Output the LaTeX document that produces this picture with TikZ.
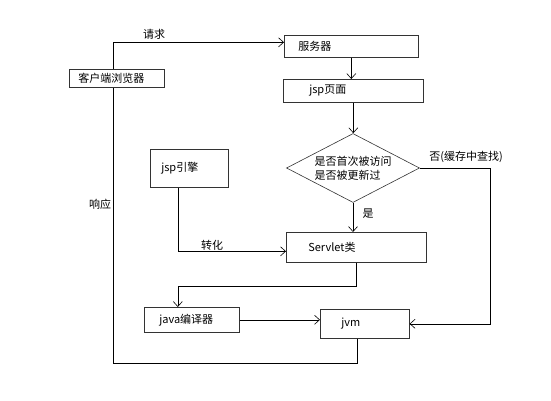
\documentclass[tikz,border=0pt]{standalone}
\usepackage{fontspec}
\setmainfont{Noto Sans CJK SC}
\usetikzlibrary{arrows.meta,shapes.geometric}

\tikzset{
  box/.style={draw=black!80, rectangle, anchor=north west, align=left, inner ysep=0pt},
  lab/.style={inner sep=0pt}
}

\begin{document}
\begin{tikzpicture}[x=1pt, y=-1pt, line width=0.6pt, >={Straight Barb[length=5pt,width=9pt]},
  font=\fontsize{11}{14}\selectfont]
\useasboundingbox (0,0) rectangle (551,401);

\node[box, text width=77pt, minimum height=18pt, inner xsep=9pt] (browser) at (69,69) {客户端浏览器};
\node[box, text width=106pt, minimum height=22pt, inner xsep=14pt] (server) at (284,35) {服务器};
\node[box, text width=88pt, minimum height=23pt, inner xsep=26pt] (jsppage) at (283,79) {jsp页面};
\node[draw=black!80, diamond, shape aspect=1.93, inner sep=0pt, align=left,
  minimum width=133pt, minimum height=69pt] (check) at (353,168) {是否首次被访问\\是否被更新过};
\node[box, text width=56pt, minimum height=38pt, inner xsep=11pt] (engine) at (150,149) {jsp引擎};
\node[box, text width=96pt, minimum height=30pt, inner xsep=22pt] (servlet) at (286,232) {Servlet类};
\node[box, text width=65pt, minimum height=25pt, inner xsep=15pt] (compiler) at (144,307) {java编译器};
\node[box, text width=47pt, minimum height=29pt, inner xsep=21pt] (jvm) at (320,309) {jvm};

% request / response
\draw[->] ([xshift=-4pt]browser.north) |- ([yshift=4pt]server.west);
\draw ([xshift=-8pt]jvm.south) -- ++(0,25) -| ([xshift=-4pt]browser.south);
\node[lab] (req) at (154,34) {请求};
\node[lab] (resp) at (100,204) {响应};

% server side
\draw[->] (server.south) -- (server.south |- jsppage.north);
\draw[->] (jsppage.south) -- (jsppage.south |- check.north);
\draw[->] (check.south) -- (check.south |- servlet.north);
\node[lab] (yes) at (368,214) {是};
\draw[->] (check.east) -- ++(70,0) |- (jvm.east);
\node[lab] (no) at (466,157) {否(缓存中查找)};
\draw[->] ([xshift=-11pt]engine.south) |- ([yshift=-4pt]servlet.west);
\node[lab] (conv) at (212,245) {转化};
\draw[->] (servlet.south) -- ++(0,24) -| ([xshift=-14pt]compiler.north);
\draw[->] (compiler.east) -- (compiler.east -| jvm.west);
\end{tikzpicture}
\end{document}
